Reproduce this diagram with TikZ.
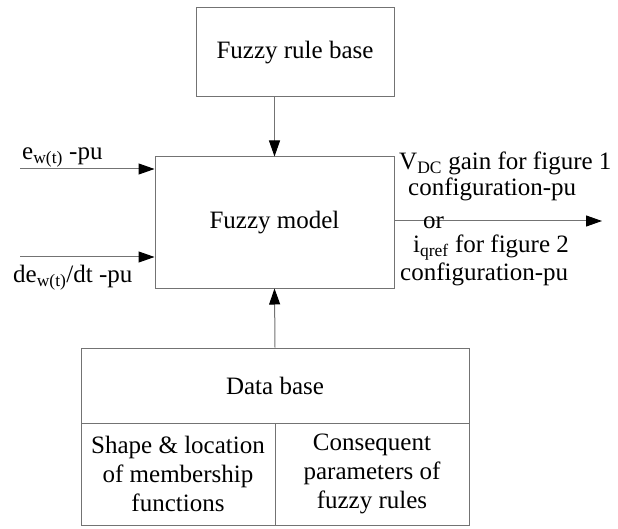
\documentclass[tikz,border=0pt]{standalone}
\usepackage{fontspec}
\setmainfont{LiberationSerif}[Extension=.ttf, UprightFont=*-Regular, BoldFont=*-Bold, ItalicFont=*-Italic]
\usetikzlibrary{arrows.meta}
\begin{document}
\begin{tikzpicture}[x=1pt,y=-1pt,
  every node/.style={font=\fontsize{25}{29}\selectfont, inner sep=0pt},
  blk/.style={draw=gray!90!black, line width=1pt, align=center},
  conn/.style={draw=gray!90!black, line width=1pt, -{Triangle[length=16pt,width=11pt,color=black]}},
  lbl/.style={anchor=base west}]
\useasboundingbox (0,0) rectangle (618,529);
\fill[white] (0,0) rectangle (618,529);
% boxes
\node[blk, minimum width=198pt, minimum height=89pt] (rule) at (295,52.5) {Fuzzy rule base};
\node[blk, minimum width=239pt, minimum height=131pt] (model) at (274.5,222.5) {Fuzzy model};
\node[blk, minimum width=388pt, minimum height=75pt] (db) at (275,385.5) {Data base};
\node[blk, minimum width=194pt, minimum height=102pt] (shape) at (178,474) {Shape \& location\\of membership\\functions};
\node[blk, minimum width=194pt, minimum height=102pt] (cons) at (372,474) {Consequent\\parameters of\\fuzzy rules};
% input anchors
\coordinate (in1) at (20,169);
\coordinate (in2) at (20,257);
\coordinate (out) at (602,221);
% connectors
\draw[conn] (rule.south -| model.north) -- (model.north);
\draw[conn] (db.north) -- (model.south);
\draw[conn] (in1) -- (in1 -| model.west);
\draw[conn] (in2) -- (in2 -| model.west);
\draw[conn] (model.east |- out) -- (out);
% labels
\node[lbl] (l1) at (22,160) {e\textsubscript{w(t)} -pu};
\node[lbl] (l2) at (13,283) {de\textsubscript{w(t)}/dt -pu};
\node[lbl] (o1) at (399,170) {V\textsubscript{DC} gain for figure 1};
\node[lbl] (o2) at (408,196) {configuration-pu};
\node[lbl] (o3) at (423,229) {or};
\node[lbl] (o4) at (413,253) {i\textsubscript{qref} for figure 2};
\node[lbl] (o5) at (400,280) {configuration-pu};
\end{tikzpicture}
\end{document}
